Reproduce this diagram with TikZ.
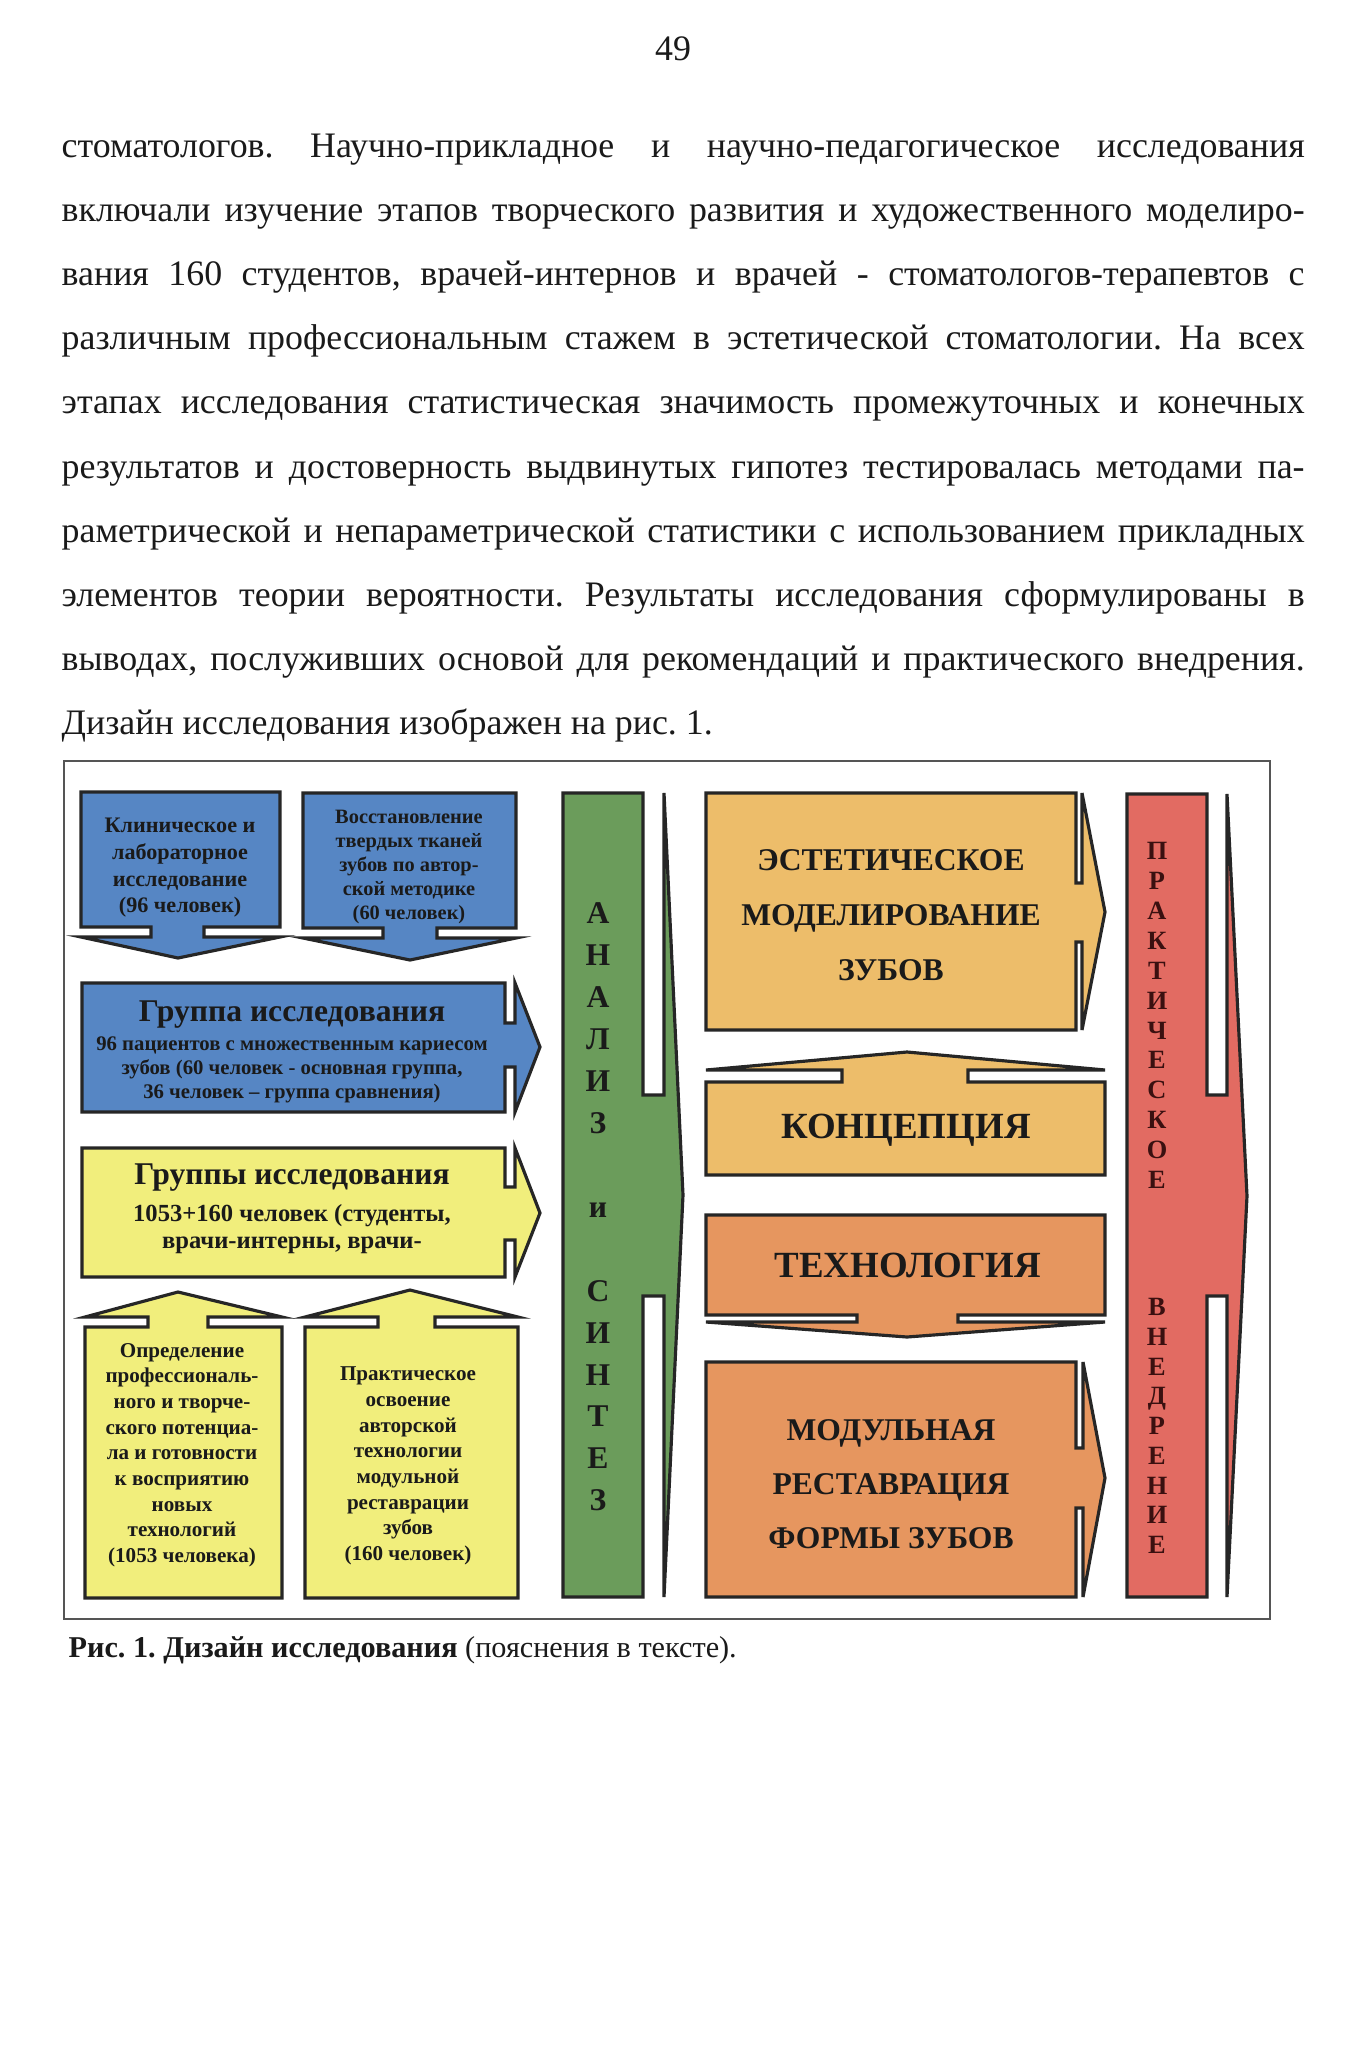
\documentclass[tikz,border=0pt]{standalone}
\usepackage{fontspec}
\setmainfont{Liberation Serif}
\usetikzlibrary{positioning}
\definecolor{inkclr}{HTML}{1A1A1A}
\definecolor{lineclr}{HTML}{262626}
\definecolor{frameclr}{HTML}{555555}
\definecolor{bluefill}{HTML}{5686C4}
\definecolor{yellowfill}{HTML}{F1EE7C}
\definecolor{greenfill}{HTML}{6B9C5B}
\definecolor{peachfill}{HTML}{EDBD6A}
\definecolor{orangefill}{HTML}{E6965F}
\definecolor{redfill}{HTML}{E26B62}
\definecolor{redink}{HTML}{3A1010}
\newcommand{\lblsize}[2]{\fontsize{#1}{#2}\selectfont\bfseries}
\tikzset{
  bodyline/.style  = {anchor=base west, inner sep=0pt, text=inkclr, font=\fontsize{10.2}{12}\selectfont},
  calloutline/.style = {draw=lineclr, line width=0.9pt, line join=miter},
  blueblk/.style   = {calloutline, fill=bluefill},
  yellowblk/.style = {calloutline, fill=yellowfill},
  greenblk/.style  = {calloutline, fill=greenfill},
  peachblk/.style  = {calloutline, fill=peachfill},
  orangeblk/.style = {calloutline, fill=orangefill},
  redblk/.style    = {calloutline, fill=redfill},
  framebox/.style  = {draw=frameclr, line width=0.6pt},
  lbl/.style       = {inner sep=0pt, align=center, text=inkclr},
}

\begin{document}
\frenchspacing
\begin{tikzpicture}[x=0.1mm, y=-0.1mm]
\path[fill=white] (0,0) rectangle (1360,2050);
\useasboundingbox (0,0) rectangle (1360,2050);

%% page number
\node[bodyline, anchor=base] (pgnum) at (673,60) {49};

%% running text
\node[bodyline] (t1)  at (61,157)   {\makebox[124.3mm][s]{стоматологов. Научно-прикладное и научно-педагогическое исследования}};
\node[bodyline] (t2)  at (61,221.2) {\makebox[124.3mm][s]{включали изучение этапов творческого развития и художественного моделиро-}};
\node[bodyline] (t3)  at (61,285.4) {\makebox[124.3mm][s]{вания 160 студентов, врачей-интернов и врачей - стоматологов-терапевтов с}};
\node[bodyline] (t4)  at (61,349.6) {\makebox[124.3mm][s]{различным профессиональным стажем в эстетической стоматологии. На всех}};
\node[bodyline] (t5)  at (61,413.8) {\makebox[124.3mm][s]{этапах исследования статистическая значимость промежуточных и конечных}};
\node[bodyline] (t6)  at (61,478)   {\makebox[124.3mm][s]{результатов и достоверность выдвинутых гипотез тестировалась методами па-}};
\node[bodyline] (t7)  at (61,542.2) {\makebox[124.3mm][s]{раметрической и непараметрической статистики с использованием прикладных}};
\node[bodyline] (t8)  at (61,606.4) {\makebox[124.3mm][s]{элементов теории вероятности. Результаты исследования сформулированы в}};
\node[bodyline] (t9)  at (61,670.6) {\makebox[124.3mm][s]{выводах, послуживших основой для рекомендаций и практического внедрения.}};
\node[bodyline] (t10) at (61,734.8) {Дизайн исследования изображен на рис. 1.};

%% figure frame
\draw[framebox] (64,761) rectangle (1270,1619);

%% left column: blue and yellow callouts
\draw[blueblk] (81,792) -- (280,792) -- (280,927) -- (204,927) -- (204,937) -- (280,937) -- (178,958)
  -- (81,937) -- (151,937) -- (151,927) -- (81,927) -- cycle;
\draw[blueblk] (303,793) -- (516,793) -- (516,928) -- (437,928) -- (437,938) -- (516,938) -- (410,960)
  -- (303,938) -- (383,938) -- (383,928) -- (303,928) -- cycle;
\draw[blueblk] (82,983) -- (505,983) -- (505,1023) -- (515,1023) -- (515,983) -- (540,1047)
  -- (515,1112) -- (515,1067) -- (505,1067) -- (505,1112) -- (82,1112) -- cycle;
\draw[yellowblk] (82,1148) -- (505,1148) -- (505,1187) -- (515,1187) -- (515,1148) -- (540,1213)
  -- (515,1277) -- (515,1240) -- (505,1240) -- (505,1277) -- (82,1277) -- cycle;
\draw[yellowblk] (85,1598) -- (85,1327) -- (148,1327) -- (148,1317) -- (85,1317) -- (178,1292)
  -- (282,1317) -- (208,1317) -- (208,1327) -- (282,1327) -- (282,1598) -- cycle;
\draw[yellowblk] (305,1598) -- (305,1327) -- (378,1327) -- (378,1317) -- (305,1317) -- (410,1290)
  -- (518,1317) -- (435,1317) -- (435,1327) -- (518,1327) -- (518,1598) -- cycle;

\node[lbl, font=\lblsize{6.3}{7.6}] (clin) at (180,868) {Клиническое и\\лабораторное\\исследование\\(96 человек)};
\node[lbl, font=\lblsize{5.8}{6.8}] (restore) at (409,867) {Восстановление\\твердых тканей\\зубов по автор-\\ской методике\\(60 человек)};
\node[lbl, font=\lblsize{9}{10}] (grptitle) at (292,1015) {Группа исследования};
\node[lbl, font=\lblsize{5.9}{6.8}] (grpsub) at (292,1070) {96 пациентов с множественным кариесом\\зубов (60 человек - основная группа,\\36 человек – группа сравнения)};
\node[lbl, font=\lblsize{9}{10}] (grpstitle) at (292,1178) {Группы исследования};
\node[lbl, font=\lblsize{7}{7.9}] (grpssub) at (292,1229) {1053+160 человек (студенты,\\врачи-интерны, врачи-};
\node[lbl, font=\lblsize{6}{7.3}] (define) at (182,1455) {Определение\\профессиональ-\\ного и творче-\\ского потенциа-\\ла и готовности\\к восприятию\\новых\\технологий\\(1053 человека)};
\node[lbl, font=\lblsize{6}{7.3}] (practice) at (408,1466) {Практическое\\освоение\\авторской\\технологии\\модульной\\реставрации\\зубов\\(160 человек)};

%% analysis and synthesis
\draw[greenblk] (563,793) -- (643,793) -- (643,1095) -- (664,1095) -- (664,793) -- (683,1195)
  -- (664,1597) -- (664,1296) -- (643,1296) -- (643,1597) -- (563,1597) -- cycle;
\node[lbl, font=\lblsize{9}{11.93}] (analysis) at (598,1207)
  {А\\Н\\А\\Л\\И\\З\\[\baselineskip]и\\[\baselineskip]С\\И\\Н\\Т\\Е\\З};

%% right column: peach and orange callouts
\draw[peachblk] (706,793) -- (1076,793) -- (1076,883) -- (1082,883) -- (1082,793) -- (1105,912)
  -- (1082,1030) -- (1082,942) -- (1076,942) -- (1076,1030) -- (706,1030) -- cycle;
\draw[peachblk] (706,1175) -- (706,1082) -- (842,1082) -- (842,1070) -- (706,1070) -- (907,1052)
  -- (1105,1070) -- (968,1070) -- (968,1082) -- (1105,1082) -- (1105,1175) -- cycle;
\draw[orangeblk] (706,1215) -- (1105,1215) -- (1105,1315) -- (958,1315) -- (958,1322) -- (1105,1322)
  -- (907,1337) -- (706,1322) -- (857,1322) -- (857,1315) -- (706,1315) -- cycle;
\draw[orangeblk] (706,1362) -- (1076,1362) -- (1076,1448) -- (1083,1448) -- (1083,1362) -- (1105,1478)
  -- (1083,1597) -- (1083,1508) -- (1076,1508) -- (1076,1597) -- (706,1597) -- cycle;

\node[lbl, font=\lblsize{9}{15.6}] (aesth) at (891,915) {ЭСТЕТИЧЕСКОЕ\\МОДЕЛИРОВАНИЕ\\ЗУБОВ};
\node[lbl, font=\lblsize{10.5}{12}] (concept) at (906,1130) {КОНЦЕПЦИЯ};
\node[lbl, font=\lblsize{10.5}{12}] (techno) at (908,1265) {ТЕХНОЛОГИЯ};
\node[lbl, font=\lblsize{9}{15.3}] (modular) at (891,1484) {МОДУЛЬНАЯ\\РЕСТАВРАЦИЯ\\ФОРМЫ ЗУБОВ};

%% practical implementation
\draw[redblk] (1127,794) -- (1207,794) -- (1207,1095) -- (1227,1095) -- (1227,794) -- (1247,1196)
  -- (1227,1597) -- (1227,1296) -- (1207,1296) -- (1207,1597) -- (1127,1597) -- cycle;
\node[lbl, text=redink, font=\lblsize{7.5}{8.5}] (prakt) at (1157,1015.5) {П\\Р\\А\\К\\Т\\И\\Ч\\Е\\С\\К\\О\\Е};
\node[lbl, text=redink, font=\lblsize{7.5}{8.45}] (vnedr) at (1157,1426) {В\\Н\\Е\\Д\\Р\\Е\\Н\\И\\Е};

%% caption
\node[bodyline, font=\fontsize{8.6}{10}\selectfont] (caption) at (68,1657)
  {\textbf{Рис. 1. Дизайн исследования} (пояснения в тексте).};

\end{tikzpicture}
\end{document}
